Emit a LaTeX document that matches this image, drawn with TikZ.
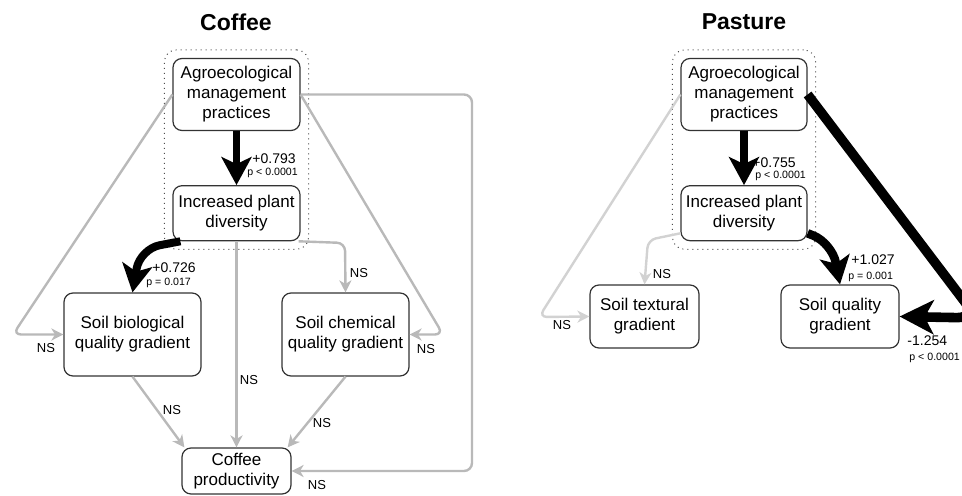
\documentclass[tikz,border=0pt]{standalone}
\usepackage{fontspec}
\setmainfont{Liberation Sans}
\usetikzlibrary{arrows.meta,positioning,fit,calc}

\begin{document}
\begin{tikzpicture}[x=0.5pt,y=-0.5pt,
node distance=27pt,
box/.style={draw=black!80,line width=0.6pt,rounded corners=4.5pt,fill=white,align=center,inner sep=0pt,font=\fontsize{8.5}{10}\selectfont},
title/.style={font=\fontsize{11.5}{13}\selectfont\bfseries},
coef/.style={anchor=west,inner sep=0pt,font=\fontsize{7}{8}\selectfont},
pval/.style={anchor=west,inner sep=0pt,font=\fontsize{5.3}{6}\selectfont},
ns/.style={inner sep=0pt,font=\fontsize{6.5}{8}\selectfont},
sig/.style={-{Stealth[length=14pt,width=15pt,inset=3.5pt]},line width=3.8pt,rounded corners=10pt},
nsflow/.style={-{Stealth[length=6pt,width=6pt,inset=1.8pt]},line width=1.2pt,draw=gray!55,rounded corners=4pt},
nsflowlt/.style={nsflow,draw=gray!35},
group/.style={draw=black!70,dotted,line width=0.5pt,rounded corners=6pt,inner sep=4pt}]
\useasboundingbox (0,0) rectangle (962,496);
\clip (0,0) rectangle (962,496);
% Coffee
\node[title] (tC) at (236,22) {Coffee};
\node[box,minimum width=63.5pt,minimum height=36pt] (agroC) at (236.5,94.5) {Agroecological\\management\\practices};
\node[box,minimum width=63.5pt,minimum height=27.5pt,below=of agroC] (divC) {Increased plant\\diversity};
\node[box,minimum width=68.5pt,minimum height=41.5pt] (bioC) at (132.5,334.5) {Soil biological\\quality gradient};
\node[box,minimum width=63.5pt,minimum height=41.5pt] (chemC) at (345.5,334.5) {Soil chemical\\quality gradient};
\node[box,minimum width=54.5pt,minimum height=23pt] (prodC) at (236.5,471) {Coffee\\productivity};
\node[group,fit=(agroC)(divC)] (grpC) {};
\draw[nsflow] (agroC.west) -- (13,334.5) -- (bioC.west);
\draw[nsflow] (agroC.east) -- (443,334.5) -- (chemC.east);
\draw[nsflow] (agroC.east) -- (472,94.5) -- (472,471) -- (prodC.east);
\draw[nsflow] (divC.south) -- (prodC.north);
\draw[nsflow] ($(divC.south east)+(-2,0)$) -- (345,243) -- (chemC.north);
\draw[nsflow] (bioC.south) -- ($(prodC.north west)+(3,0)$);
\draw[nsflow] (chemC.south) -- ($(prodC.north east)+(-4,0)$);
\draw[sig] (agroC.south) -- (divC.north);
\draw[sig,line width=4pt] ($(divC.south west)+(8,0)$) -- (140,249) -- (bioC.north);
\node[coef] at (252,159) {+0.793};
\node[pval] at (247,173) {p < 0.0001};
\node[coef] at (152,268) {+0.726};
\node[pval] at (146,283) {p = 0.017};
\node[ns] at (46,348) {NS};
\node[ns] at (426,349) {NS};
\node[ns] at (317,485) {NS};
\node[ns] at (249,380) {NS};
\node[ns] at (359,273) {NS};
\node[ns] at (172,410) {NS};
\node[ns] at (322,423) {NS};
% Pasture
\node[title] (tP) at (744,22) {Pasture};
\node[box,minimum width=63pt,minimum height=36pt] (agroP) at (744,94.5) {Agroecological\\management\\practices};
\node[box,minimum width=63pt,minimum height=27.5pt,below=of agroP] (divP) {Increased plant\\diversity};
\node[box,minimum width=54.5pt,minimum height=31.5pt] (textP) at (644.5,316.5) {Soil textural\\gradient};
\node[box,minimum width=59pt,minimum height=31.5pt] (qualP) at (840,316.5) {Soil quality\\gradient};
\node[group,fit=(agroP)(divP)] (grpP) {};
\draw[nsflowlt] (agroP.west) -- (539,317) -- (textP.west);
\draw[nsflowlt] ($(divP.south west)+(0,-8)$) -- (648,240) -- (textP.north);
\node[coef] at (752,163) {+0.755};
\node[pval] at (755,176) {p < 0.0001};
\draw[sig] (agroP.south) -- (divP.north);
\draw[sig,line width=4.3pt] ($(divP.south east)+(0,-8)$) -- (832,243) -- (qualP.north);
\draw[sig,line width=4.8pt,-{Stealth[length=17pt,width=17pt,inset=4.5pt]}] (agroP.east) -- (977,318) -- (qualP.east);
\node[coef] at (851,260) {+1.027};
\node[pval] at (848,277) {p = 0.001};
\node[coef] at (907,341) {-1.254};
\node[pval] at (909,358) {p < 0.0001};
\node[ns] at (662,274) {NS};
\node[ns] at (562,325) {NS};
\end{tikzpicture}
\end{document}
